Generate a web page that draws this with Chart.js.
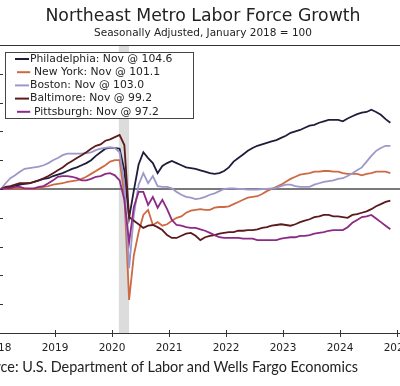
<!DOCTYPE html>
<html>
<head>
<meta charset="utf-8">
<script src="https://cdn.jsdelivr.net/npm/chart.js@4"></script>
<style>
  html, body { margin:0; padding:0; background:#fff; width:400px; height:386px; overflow:hidden; position:relative; }
  #title { position:absolute; left:3px; top:5px; width:400px; text-align:center; font-family:"DejaVu Sans"; font-size:17.3px; color:#222; white-space:nowrap; }
  #subtitle { position:absolute; left:3px; top:26px; width:400px; text-align:center; font-family:"DejaVu Sans"; font-size:10.5px; color:#222; white-space:nowrap; }
  #source { position:absolute; right:42px; top:358px; text-align:right; font-family:"Lato"; font-size:14.4px; color:#222; white-space:nowrap; }
  #wrap { position:absolute; left:-57px; top:0; width:520px; height:386px; }
</style>
</head>
<body>
<div id="wrap"><canvas id="c" width="520" height="386"></canvas></div>
<div id="title">Northeast Metro Labor Force Growth</div>
<div id="subtitle">Seasonally Adjusted, January 2018 = 100</div>
<div id="source">Source: U.S. Department of Labor and Wells Fargo Economics</div>
<script>
// Monthly index values, Jan 2018 .. Nov 2024 (Jan 2018 = 100)
const startYear = 2018;
const lastMonthLabel = "Nov";
const cities = ["Philadelphia", "New York", "Boston", "Baltimore", "Pittsburgh"];

const philadelphia = [
  100.0,100.07,100.14,100.2,100.3,100.35,100.4,100.5,100.6,100.7,100.75,100.9,
  101.0,101.1,101.25,101.4,101.5,101.65,101.8,102.0,102.3,102.55,102.8,102.85,
  102.85,102.8,101.3,98.0,99.9,101.7,102.55,102.15,101.8,101.1,101.6,101.8,
  101.95,101.8,101.65,101.5,101.45,101.4,101.3,101.2,101.1,101.05,101.1,101.25,
  101.5,101.9,102.15,102.4,102.65,102.85,103.0,103.1,103.2,103.3,103.4,103.55,
  103.7,103.9,104.0,104.1,104.25,104.4,104.45,104.6,104.7,104.8,104.8,104.8,
  104.7,104.9,105.05,105.2,105.3,105.35,105.5,105.35,105.15,104.85,104.6
];
const newYork = [
  100.0,100.0,100.0,100.05,100.05,100.0,100.0,100.0,100.05,100.15,100.2,100.3,
  100.35,100.4,100.5,100.55,100.6,100.7,100.85,101.05,101.25,101.45,101.65,101.9,
  102.0,102.0,99.6,92.3,95.4,97.0,98.2,98.55,97.5,97.7,97.45,97.55,
  97.8,98.0,98.1,98.35,98.5,98.55,98.6,98.55,98.55,98.7,98.75,98.75,
  98.8,98.95,99.1,99.25,99.4,99.45,99.5,99.65,99.85,100.0,100.15,100.3,
  100.5,100.7,100.85,101.0,101.05,101.1,101.2,101.2,101.25,101.25,101.2,101.2,
  101.1,101.05,101.05,101.05,100.95,101.05,101.1,101.2,101.2,101.2,101.1
];
const boston = [
  100.0,100.4,100.75,100.95,101.2,101.4,101.45,101.5,101.55,101.65,101.8,102.0,
  102.15,102.35,102.45,102.45,102.45,102.45,102.5,102.55,102.7,102.8,102.85,102.9,
  102.85,102.55,100.3,94.5,98.2,100.3,101.1,100.4,100.9,100.2,100.15,100.15,
  100.05,99.8,99.6,99.45,99.4,99.3,99.35,99.45,99.6,99.7,99.85,100.0,
  100.05,100.05,100.0,100.0,99.95,99.95,99.95,100.0,100.0,100.05,100.1,100.2,
  100.3,100.3,100.2,100.15,100.15,100.15,100.3,100.4,100.5,100.55,100.6,100.7,
  100.75,100.9,101.1,101.3,101.5,101.9,102.3,102.65,102.85,103.0,103.0
];
const baltimore = [
  100.0,100.15,100.2,100.3,100.4,100.4,100.4,100.5,100.6,100.75,100.9,101.1,
  101.3,101.5,101.75,101.95,102.15,102.35,102.55,102.8,103.0,103.1,103.35,103.45,
  103.6,103.75,103.05,98.05,97.8,97.55,97.3,97.45,97.5,97.35,97.15,96.8,
  96.6,96.6,96.75,96.9,96.95,96.75,96.45,96.65,96.75,96.8,96.9,96.95,
  97.0,97.0,97.1,97.1,97.15,97.15,97.2,97.3,97.35,97.45,97.5,97.55,
  97.5,97.45,97.55,97.7,97.8,97.9,98.05,98.1,98.2,98.2,98.1,98.1,
  98.05,98.0,98.2,98.25,98.35,98.45,98.6,98.8,98.95,99.1,99.2
];
const pittsburgh = [
  100.0,100.05,100.05,100.15,100.15,100.05,100.05,100.05,100.15,100.2,100.4,100.6,
  100.85,100.9,100.9,100.85,100.75,100.6,100.6,100.7,100.85,100.9,101.05,101.1,
  100.95,100.6,99.25,96.3,98.75,99.8,99.8,98.9,99.45,98.7,99.25,98.6,
  97.85,97.5,97.45,97.35,97.3,97.3,97.2,97.1,96.95,96.8,96.65,96.6,
  96.6,96.6,96.6,96.55,96.55,96.55,96.45,96.45,96.45,96.45,96.45,96.55,
  96.6,96.65,96.65,96.75,96.75,96.8,96.9,96.95,97.0,97.1,97.15,97.15,
  97.15,97.35,97.65,97.85,98.05,98.1,98.2,97.95,97.7,97.45,97.2
];
const seriesValues = [philadelphia, newYork, boston, baltimore, pittsburgh];
const seriesColors = ["#1e1e3c", "#cd6a45", "#9c98c9", "#5a1a1e", "#8c2a86"];

const xTicks = [2018, 2019, 2020, 2021, 2022, 2023, 2024, 2025];
const yMin = 90, yMax = 110, yStep = 2;
const recession = [2020.12, 2020.30];
const baseline = 100;

function toPoints(vals) {
  return vals.map((v, i) => ({ x: startYear + (i + 0.6) / 12, y: v }));
}

const legendLabels = cities.map((c, k) => c + ": " + lastMonthLabel + " @ " + seriesValues[k][seriesValues[k].length - 1].toFixed(1));
const legendIndent = [0, 4, 0, 0, 4];

const decor = {
  id: "decor",
  beforeDatasetsDraw(chart) {
    const { ctx, chartArea: a, scales: { x, y } } = chart;
    ctx.save();
    const x0 = x.getPixelForValue(recession[0]), x1 = x.getPixelForValue(recession[1]);
    ctx.fillStyle = "#dcdcdc";
    ctx.fillRect(x0, a.top, x1 - x0, a.bottom - a.top);
    const yb = y.getPixelForValue(baseline);
    ctx.strokeStyle = "#7a7a7a";
    ctx.lineWidth = 2;
    ctx.beginPath(); ctx.moveTo(a.left, yb); ctx.lineTo(a.right + 6, yb); ctx.stroke();
    ctx.restore();
  },
  afterDatasetsDraw(chart) {
    const { ctx, chartArea: a, scales: { x, y } } = chart;
    ctx.save();
    ctx.strokeStyle = "#333";
    ctx.lineWidth = 1;
    ctx.beginPath(); ctx.moveTo(a.left, a.top + 0.5); ctx.lineTo(a.right + 6, a.top + 0.5); ctx.stroke();
    ctx.beginPath(); ctx.moveTo(a.left, a.bottom + 0.5); ctx.lineTo(a.right + 6, a.bottom + 0.5); ctx.stroke();
    xTicks.forEach(t => {
      const px = Math.round(x.getPixelForValue(t)) + 0.5;
      ctx.beginPath(); ctx.moveTo(px, a.bottom - 3); ctx.lineTo(px, a.bottom + 4); ctx.stroke();
    });
    for (let v = yMin; v <= yMax; v += yStep) {
      const py = Math.round(y.getPixelForValue(v)) + 0.5;
      ctx.beginPath(); ctx.moveTo(a.left - 3, py); ctx.lineTo(a.left + 5, py); ctx.stroke();
    }
    const bx = a.left + 7, by = a.top + 7, bw = 188, bh = 66;
    ctx.fillStyle = "#fff";
    ctx.fillRect(bx, by, bw, bh);
    ctx.strokeStyle = "#444";
    ctx.strokeRect(bx + 0.5, by + 0.5, bw, bh);
    ctx.font = "10.8px 'DejaVu Sans'";
    ctx.textBaseline = "middle";
    legendLabels.forEach((lab, k) => {
      const ly = by + 7 + k * 13.2;
      ctx.strokeStyle = seriesColors[k];
      ctx.lineWidth = 2;
      ctx.beginPath(); ctx.moveTo(bx + 10 + legendIndent[k] * 0.5, ly); ctx.lineTo(bx + 24 + legendIndent[k] * 0.3, ly); ctx.stroke();
      ctx.fillStyle = "#222";
      ctx.fillText(lab, bx + 25 + legendIndent[k], ly);
    });
    ctx.restore();
  }
};

new Chart(document.getElementById("c"), {
  type: "line",
  data: {
    datasets: cities.map((c, k) => ({
      label: c,
      data: toPoints(seriesValues[k]),
      borderColor: seriesColors[k],
      borderWidth: 1.8,
      pointRadius: 0,
      tension: 0,
      fill: false
    })).reverse()
  },
  options: {
    responsive: false,
    animation: false,
    layout: { padding: { top: 45, right: 66, left: 0, bottom: 0 } },
    plugins: { legend: { display: false }, tooltip: { enabled: false }, title: { display: false } },
    scales: {
      x: {
        type: "linear", min: 2018, max: 2025,
        afterBuildTicks: s => { s.ticks = xTicks.map(v => ({ value: v })); },
        afterFit: s => { s.height = 53; },
        ticks: { callback: v => String(v), font: { family: "DejaVu Sans", size: 10.5 }, color: "#222", padding: 9, maxRotation: 0, autoSkip: false },
        grid: { display: true, drawOnChartArea: false, drawTicks: false },
        border: { display: false }
      },
      y: {
        min: yMin, max: yMax,
        afterFit: s => { s.width = 55; },
        ticks: { stepSize: yStep, font: { family: "DejaVu Sans", size: 10.5 }, color: "#222" },
        grid: { display: false, drawTicks: false },
        border: { display: false }
      }
    }
  },
  plugins: [decor]
});
</script>
</body>
</html>
